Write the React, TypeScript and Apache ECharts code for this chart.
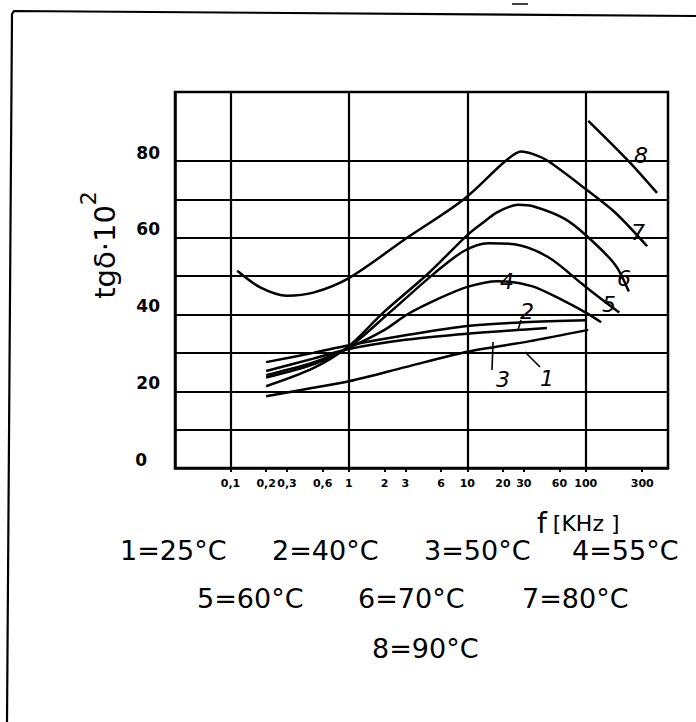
import React, { useEffect, useRef } from "react";
import * as echarts from "echarts";

// frequency axis (kHz, log scale)
const X_TICKS = [0.1, 0.2, 0.3, 0.6, 1, 2, 3, 6, 10, 20, 30, 60, 100, 300];
const X_TICK_LABELS = ["0,1", "0,2", "0,3", "0,6", "1", "2", "3", "6", "10", "20", "30", "60", "100", "300"];
const X_GRID = [0.1, 1, 10, 100];
const Y_GRID = [10, 20, 30, 40, 50, 60, 70, 80];
const Y_LABELS = [0, 20, 40, 60, 80];

// tg δ · 10^2 curves: [f kHz, value]
const C1_25 = [[0.2, 18.7], [0.5, 20.9], [1, 22.6], [3, 26.3], [10, 30.3], [33, 33], [105, 36]];
const C2_40 = [[0.2, 27.6], [0.5, 30], [1, 32], [3, 34.6], [10, 37], [30, 38], [102, 38.5]];
const C3_50 = [[0.2, 25.3], [0.5, 28.5], [1, 31], [3, 33.4], [10, 35], [47, 36.5]];
const C4_55 = [[0.2, 24.2], [0.5, 27.5], [1, 31.3], [2, 36], [3.1, 40], [5.6, 44], [10, 47.2], [18, 48.7], [35, 47.4], [66, 43.5], [100, 40.5], [135, 38]];
const C5_60 = [[0.2, 23.6], [0.5, 27], [1, 31.5], [2.2, 40.5], [5.2, 50.6], [9.3, 56.5], [15, 58.6], [25, 58.3], [48, 55], [93, 48], [127, 44.7], [192, 40.5]];
const C6_70 = [[0.2, 21.3], [0.5, 26], [1, 31.8], [1.95, 40.5], [4.6, 50.5], [10, 60.7], [13, 63.5], [18, 66.7], [27, 68.6], [37, 68.1], [66, 65], [100, 60.7], [177, 53], [231, 46]];
const C7_80 = [[0.114, 51.4], [0.18, 47], [0.3, 44.9], [0.5, 45.7], [1, 49.5], [3.1, 60], [9.3, 70], [21, 80], [28.5, 82.5], [36, 81.8], [48, 80], [100, 72.7], [177, 66.6], [330, 57.8]];
const C8_90 = [[105, 90.5], [230, 80], [400, 71.7]];

const SERIES = [
  { name: "1=25°C", data: C1_25 },
  { name: "2=40°C", data: C2_40 },
  { name: "3=50°C", data: C3_50 },
  { name: "4=55°C", data: C4_55 },
  { name: "5=60°C", data: C5_60 },
  { name: "6=70°C", data: C6_70 },
  { name: "7=80°C", data: C7_80 },
  { name: "8=90°C", data: C8_90 },
];

const FONT = "DejaVu Sans";

export default function App() {
  const ref = useRef<HTMLDivElement>(null);
  useEffect(() => {
    if (!ref.current) return;
    const chart = echarts.init(ref.current, null, { renderer: "svg" });
    const fmtX = (v: number) => {
      const i = X_TICKS.findIndex((t) => Math.abs(Math.log10(t) - Math.log10(v)) < 1e-6);
      return i >= 0 ? X_TICK_LABELS[i] : "";
    };
    const series: any[] = SERIES.map((s, i) => ({
      type: "line",
      name: s.name,
      data: s.data,
      smooth: 0.3,
      symbol: "none",
      lineStyle: { color: "#000", width: 2.5 },
      z: 3,
      ...(i === 0
        ? {
            markLine: {
              silent: true,
              symbol: ["none", "none"],
              label: { show: false },
              lineStyle: { color: "#000", width: 2.2, type: "solid" },
              data: [
                ...Y_GRID.map((v) => ({ yAxis: v })),
                ...X_GRID.map((v) => ({ xAxis: v })),
              ],
            },
          }
        : {}),
    }));

    const legendText = (txt: string, x: number, y: number) => ({
      type: "text",
      x,
      y,
      style: { text: txt, font: `27px '${FONT}'`, fill: "#000", verticalAlign: "middle", align: "left" },
    });
    const curveLabel = (txt: string, x: number, y: number) => ({
      type: "text",
      x,
      y,
      style: { text: txt, font: `italic 22px '${FONT}'`, fill: "#000", align: "center", verticalAlign: "middle" },
    });
    const seg = (x1: number, y1: number, x2: number, y2: number, w = 1.6) => ({
      type: "line",
      shape: { x1, y1, x2, y2 },
      style: { stroke: "#000", lineWidth: w },
    });

    chart.setOption({
      animation: false,
      backgroundColor: "#fff",
      grid: { left: 175, right: 28, top: 92, bottom: 254, show: true, borderColor: "#000", borderWidth: 2.5 },
      xAxis: {
        type: "log",
        logBase: 10,
        min: 0.034,
        max: 495,
        splitLine: { show: false },
        minorTick: { show: false },
        axisLine: { show: true, lineStyle: { color: "#000", width: 2.5 } },
        axisTick: { show: true, customValues: X_TICKS, length: 4, lineStyle: { color: "#000", width: 2 } },
        axisLabel: {
          customValues: X_TICKS,
          formatter: fmtX,
          fontFamily: FONT,
          fontSize: 11,
          fontWeight: "bold",
          color: "#000",
          margin: 10,
        },
      },
      yAxis: {
        type: "value",
        min: 0,
        max: 98,
        splitLine: { show: false },
        axisLine: { show: true, lineStyle: { color: "#000", width: 2.5 } },
        axisTick: { show: false },
        axisLabel: {
          customValues: Y_LABELS,
          formatter: (v: number) => (v === 0 ? "{z|0}" : String(v)),
          fontFamily: FONT,
          fontSize: 17,
          fontWeight: "bold",
          color: "#000",
          margin: 15,
          verticalAlign: "bottom",
          rich: {
            z: { fontFamily: FONT, fontSize: 17, fontWeight: "bold", color: "#000", padding: [0, 13, 0, 0] },
          },
        },
      },
      series,
      graphic: [
        // page frame
        { type: "polyline", shape: { points: [[7, 722], [12, 14], [14, 11], [696, 16]] }, style: { stroke: "#000", lineWidth: 2.2, fill: "none" } },
        seg(512, 4, 528, 4, 1.5),
        // y axis title
        {
          type: "text",
          x: 98,
          y: 245,
          rotation: Math.PI / 2,
          style: {
            text: "{a|tgδ·10}{s|2}",
            align: "center",
            verticalAlign: "middle",
            fill: "#000",
            rich: {
              a: { fontFamily: FONT, fontSize: 29, lineHeight: 42, verticalAlign: "bottom", fill: "#000" },
              s: { fontFamily: FONT, fontSize: 22, lineHeight: 42, verticalAlign: "top", fill: "#000" },
            },
          },
        },
        // x axis title
        {
          type: "text",
          x: 537,
          y: 523,
          style: {
            text: "{f|f}{k|[KHz ]}",
            verticalAlign: "middle",
            fill: "#000",
            rich: {
              f: { fontFamily: FONT, fontSize: 28, fill: "#000", padding: [0, 6, 0, 0] },
              k: { fontFamily: FONT, fontSize: 22, fill: "#000" },
            },
          },
        },
        // curve numbers
        curveLabel("1", 547, 378),
        curveLabel("2", 527, 311),
        curveLabel("3", 503, 379),
        curveLabel("4", 507, 281),
        curveLabel("5", 609, 304),
        curveLabel("6", 624, 278),
        curveLabel("7", 638, 232),
        curveLabel("8", 641, 155),
        seg(525, 352, 540, 367),
        seg(493, 342, 492, 370),
        seg(518, 330, 521, 320),
        // legend
        legendText("1=25°C", 120, 550),
        legendText("2=40°C", 272, 550),
        legendText("3=50°C", 424, 550),
        legendText("4=55°C", 572, 550),
        legendText("5=60°C", 197, 598),
        legendText("6=70°C", 358, 598),
        legendText("7=80°C", 522, 598),
        legendText("8=90°C", 372, 648),
      ],
    });
    return () => chart.dispose();
  }, []);
  return <div ref={ref} style={{ width: 696, height: 722, position: "absolute", left: 0, top: 0 }} />;
}
